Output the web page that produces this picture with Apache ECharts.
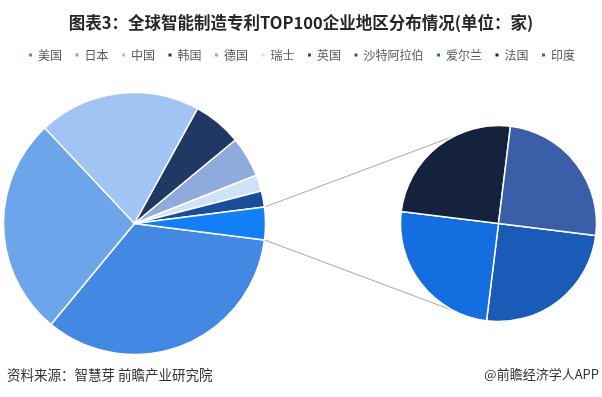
<!DOCTYPE html>
<html>
<head>
<meta charset="utf-8">
<script src="https://cdn.jsdelivr.net/npm/echarts@6/dist/echarts.min.js"></script>
<style>
  html, body { margin: 0; padding: 0; background: #fff; }
  #chart { width: 602px; height: 397px; }
</style>
</head>
<body>
<div id="chart"></div>
<script>
// 主饼图：各国企业数量（家）
var mainNames = ["美国", "日本", "中国", "韩国", "德国", "瑞士", "英国", "其他"];
var mainValues = [34, 27, 20, 6, 5, 2, 2, 4];
var mainColors = ["#4389e3", "#6ca5ea", "#a1c4f4", "#203864", "#8faadc", "#cfe2fa", "#1a4d99", "#137ff7"];

// 子饼图：其他（各1家）
var subNames = ["沙特阿拉伯", "爱尔兰", "法国", "印度"];
var subValues = [1, 1, 1, 1];
var subColors = ["#1a5bb8", "#146ee0", "#14223d", "#3a5fa8"];

var legendNames = mainNames.slice(0, 7).concat(subNames);

// 布局
var c1 = [134.5, 223.5], r1 = 131;
var c2 = [498.5, 223.5], r2 = 98;
var otherShare = mainValues[7] / mainValues.reduce(function (a, b) { return a + b; }, 0);
var halfAngle = otherShare * 180; // 其他扇区的一半角度
var joinAngle = 117;

function pt(c, r, deg) {
  var a = deg * Math.PI / 180;
  return [c[0] + r * Math.cos(a), c[1] - r * Math.sin(a)];
}

var p1 = pt(c1, r1, halfAngle), p2 = pt(c2, r2, joinAngle);
var p3 = pt(c1, r1, -halfAngle), p4 = pt(c2, r2, -joinAngle);

var font = '"Noto Sans CJK SC", "Noto Sans", sans-serif';

var chart = echarts.init(document.getElementById("chart"));
var option = {
  animation: false,
  textStyle: { fontFamily: font },
  title: {
    text: "图表3：全球智能制造专利TOP100企业地区分布情况(单位：家)",
    left: "center",
    top: 9,
    textStyle: { fontSize: 16.5, fontWeight: "bold", color: "#262626", fontFamily: font }
  },
  legend: {
    data: legendNames,
    top: 44,
    left: "center",
    icon: "rect",
    itemWidth: 5,
    itemHeight: 5,
    itemGap: 11.5,
    textStyle: { fontSize: 12, color: "#595959", fontFamily: font }
  },
  graphic: [
    {
      type: "line",
      shape: { x1: p1[0], y1: p1[1], x2: p2[0], y2: p2[1] },
      style: { stroke: "#a6a6a6", lineWidth: 1 },
      z: 1
    },
    {
      type: "line",
      shape: { x1: p3[0], y1: p3[1], x2: p4[0], y2: p4[1] },
      style: { stroke: "#a6a6a6", lineWidth: 1 },
      z: 1
    },
    {
      type: "text",
      left: 7,
      top: 368,
      style: { text: "资料来源：智慧芽 前瞻产业研究院", fill: "#333", font: "13.5px " + font }
    },
    {
      type: "text",
      right: 3,
      top: 368,
      style: { text: "@前瞻经济学人APP", fill: "#333", font: "13px " + font }
    }
  ],
  series: [
    {
      name: "主",
      type: "pie",
      center: c1,
      radius: r1,
      startAngle: -halfAngle,
      clockwise: true,
      label: { show: false },
      labelLine: { show: false },
      itemStyle: { borderColor: "#fff", borderWidth: 1.5 },
      emphasis: { disabled: true },
      data: mainNames.map(function (n, i) {
        return { name: n, value: mainValues[i], itemStyle: { color: mainColors[i] } };
      })
    },
    {
      name: "子",
      type: "pie",
      center: c2,
      radius: r2,
      startAngle: -7,
      clockwise: true,
      label: { show: false },
      labelLine: { show: false },
      itemStyle: { borderColor: "#fff", borderWidth: 1.5 },
      emphasis: { disabled: true },
      data: subNames.map(function (n, i) {
        return { name: n, value: subValues[i], itemStyle: { color: subColors[i] } };
      })
    }
  ]
};
chart.setOption(option);
</script>
</body>
</html>
